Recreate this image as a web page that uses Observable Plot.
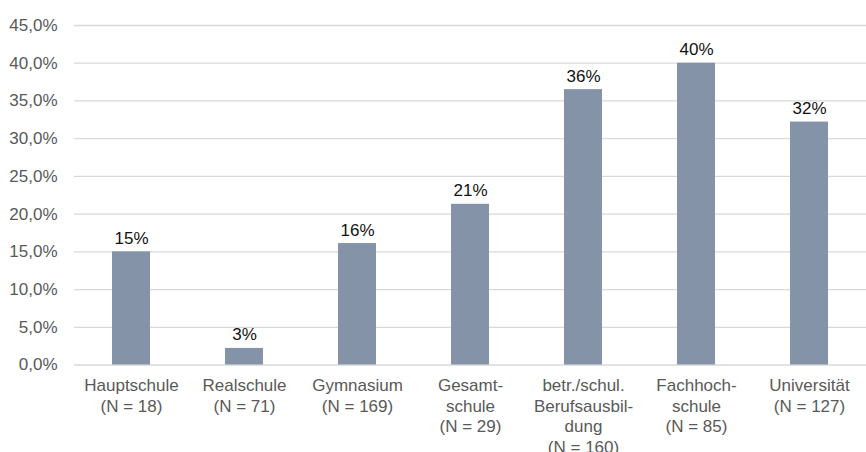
<!DOCTYPE html>
<html>
<head>
<meta charset="utf-8">
<script src="https://cdn.jsdelivr.net/npm/d3@7"></script>
<script src="https://cdn.jsdelivr.net/npm/@observablehq/plot@0.6"></script>
<style>
  html, body { margin: 0; padding: 0; background: #fff; }
  #chart { width: 866px; height: 452px; }
</style>
</head>
<body>
<div id="chart"></div>
<script>
const categories = [
  "Hauptschule\n(N = 18)",
  "Realschule\n(N = 71)",
  "Gymnasium\n(N = 169)",
  "Gesamt-\nschule\n(N = 29)",
  "betr./schul.\nBerufsausbil-\ndung\n(N = 160)",
  "Fachhoch-\nschule\n(N = 85)",
  "Universität\n(N = 127)"
];
const values = [15.0, 2.2, 16.1, 21.3, 36.5, 40.0, 32.2];
const valueLabels = ["15%", "3%", "16%", "21%", "36%", "40%", "32%"];
const yTicks = [0, 5, 10, 15, 20, 25, 30, 35, 40, 45];

const data = categories.map((c, i) => ({cat: c, value: values[i], label: valueLabels[i]}));

const font = "'Liberation Sans', Arial, sans-serif";

const chart = Plot.plot({
  width: 866,
  height: 452,
  marginLeft: 74,
  marginRight: 0,
  marginTop: 25,
  marginBottom: 87.5,
  style: {fontFamily: font, fontSize: "17px", background: "#fff"},
  x: {domain: categories, paddingInner: 0.664, paddingOuter: 0.332, label: null},
  y: {domain: [0, 45], label: null},
  marks: [
    Plot.ruleY(yTicks, {stroke: "#d9d9d9", strokeWidth: 1.3}),
    Plot.barY(data, {x: "cat", y: "value", fill: "#8493a7"}),
    Plot.text(data, {x: "cat", y: "value", text: "label", lineAnchor: "bottom", dy: -8, fill: "#111", fontSize: 17}),
    Plot.axisY(yTicks, {tickSize: 0, tickPadding: 17, tickFormat: d => d.toFixed(1).replace(".", ",") + "%", fill: "#595959", fontSize: 17, label: null}),
    Plot.axisX({tickSize: 0, tickPadding: 12, lineHeight: 1.2, fill: "#595959", fontSize: 17, label: null})
  ]
});
document.getElementById("chart").appendChild(chart);
</script>
</body>
</html>
